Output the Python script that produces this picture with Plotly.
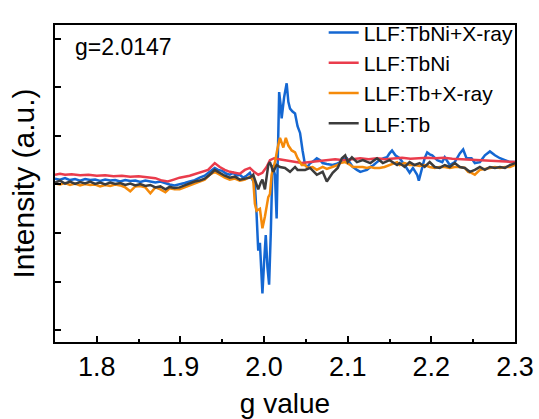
import plotly.graph_objects as go

# ---------------- data ----------------
g_tbni_x = [1.750,1.756,1.762,1.768,1.774,1.780,1.786,1.792,1.798,1.804,1.810,1.816,1.822,1.828,1.834,1.840,1.846,1.852,1.858,1.864,1.870,1.876,1.882,1.887,1.893,1.899,1.905,1.911,1.917,1.923,1.929,1.935,1.941,1.945,1.950,1.955,1.959,1.963,1.967,1.971,1.975,1.979,1.983,1.986,1.989,1.991,1.993,1.995,1.997,1.998,2.000,2.002,2.004,2.006,2.008,2.010,2.013,2.015,2.016,2.018,2.020,2.021,2.024,2.027,2.029,2.031,2.034,2.037,2.040,2.043,2.046,2.049,2.052,2.055,2.059,2.063,2.067,2.070,2.075,2.079,2.082,2.086,2.091,2.095,2.099,2.103,2.106,2.111,2.115,2.119,2.123,2.127,2.131,2.135,2.138,2.143,2.147,2.150,2.153,2.157,2.162,2.168,2.174,2.178,2.183,2.185,2.189,2.192,2.195,2.198,2.201,2.207,2.213,2.216,2.222,2.228,2.234,2.238,2.242,2.248,2.252,2.258,2.264,2.270,2.276,2.282,2.288,2.294,2.300]
i_tbni_x = [0.12,0.10,0.13,0.09,0.11,0.08,0.11,0.09,0.10,0.07,0.10,0.08,0.09,0.06,0.09,0.07,0.08,0.05,0.08,0.06,0.04,0.06,0.02,0.00,-0.02,0.00,0.03,0.06,0.09,0.14,0.18,0.26,0.34,0.30,0.28,0.22,0.20,0.24,0.18,0.20,0.14,0.18,0.24,0.10,0.00,-0.60,-1.36,-1.20,-1.90,-2.24,-1.60,-1.04,-1.70,-2.06,-1.00,0.40,0.20,-0.70,0.20,1.90,1.60,1.36,1.80,2.08,1.70,1.56,1.50,1.46,1.20,1.06,0.70,0.40,0.36,0.44,0.48,0.54,0.50,0.44,0.42,0.40,0.40,0.42,0.46,0.52,0.54,0.44,0.36,0.30,0.26,0.28,0.30,0.36,0.40,0.46,0.50,0.54,0.56,0.64,0.70,0.60,0.54,0.40,0.24,0.34,0.20,0.08,0.34,0.54,0.66,0.62,0.60,0.50,0.46,0.56,0.40,0.46,0.64,0.72,0.54,0.54,0.44,0.46,0.60,0.68,0.60,0.54,0.50,0.46,0.46]

g_tbni = [1.750,1.756,1.762,1.770,1.780,1.790,1.800,1.810,1.820,1.830,1.840,1.850,1.860,1.870,1.878,1.885,1.892,1.899,1.911,1.923,1.933,1.941,1.947,1.953,1.959,1.965,1.971,1.977,1.983,1.988,1.993,1.998,2.003,2.007,2.012,2.018,2.025,2.035,2.045,2.055,2.065,2.075,2.085,2.095,2.105,2.115,2.125,2.135,2.145,2.155,2.165,2.175,2.185,2.195,2.205,2.215,2.225,2.235,2.245,2.255,2.265,2.275,2.285,2.295,2.300]
i_tbni = [0.20,0.22,0.20,0.21,0.19,0.20,0.18,0.19,0.17,0.18,0.16,0.17,0.15,0.13,0.08,0.06,0.10,0.14,0.18,0.24,0.30,0.44,0.36,0.30,0.26,0.24,0.22,0.30,0.34,0.26,0.20,0.24,0.36,0.50,0.54,0.52,0.50,0.46,0.44,0.46,0.48,0.50,0.52,0.50,0.52,0.54,0.52,0.54,0.52,0.54,0.55,0.53,0.54,0.55,0.54,0.55,0.53,0.52,0.50,0.50,0.48,0.47,0.47,0.46,0.46]

g_tb_x = [1.750,1.756,1.762,1.768,1.774,1.780,1.786,1.792,1.798,1.804,1.810,1.816,1.822,1.828,1.834,1.840,1.846,1.852,1.858,1.864,1.870,1.876,1.882,1.887,1.893,1.899,1.905,1.911,1.917,1.923,1.929,1.935,1.941,1.947,1.953,1.959,1.965,1.971,1.977,1.983,1.987,1.989,1.991,1.993,1.995,1.998,2.001,2.005,2.007,2.009,2.013,2.016,2.019,2.023,2.026,2.029,2.033,2.037,2.040,2.045,2.049,2.052,2.058,2.063,2.070,2.075,2.082,2.088,2.091,2.097,2.103,2.106,2.111,2.118,2.123,2.127,2.132,2.138,2.144,2.150,2.159,2.162,2.168,2.174,2.180,2.186,2.192,2.198,2.204,2.210,2.216,2.222,2.228,2.234,2.240,2.244,2.248,2.252,2.258,2.264,2.270,2.276,2.282,2.288,2.294,2.300]
i_tb_x = [0.02,0.00,0.03,-0.01,0.02,-0.02,0.01,-0.01,0.00,-0.04,-0.01,-0.03,0.00,-0.02,-0.06,-0.14,-0.04,-0.03,-0.06,-0.18,-0.06,-0.10,-0.16,-0.08,-0.10,-0.10,-0.06,-0.02,0.02,0.06,0.10,0.20,0.26,0.20,0.14,0.10,0.12,0.08,0.10,0.16,0.10,-0.40,-0.54,-0.52,-0.50,-0.90,-0.66,-0.26,-0.20,0.20,0.46,0.74,0.96,0.76,0.96,0.80,0.70,0.66,0.54,0.40,0.40,0.34,0.36,0.30,0.36,0.32,0.36,0.40,0.44,0.46,0.40,0.36,0.36,0.36,0.34,0.36,0.34,0.34,0.36,0.40,0.46,0.40,0.44,0.40,0.40,0.38,0.40,0.36,0.34,0.36,0.36,0.34,0.36,0.36,0.34,0.26,0.24,0.20,0.30,0.32,0.34,0.36,0.34,0.36,0.36,0.40]

g_tb = [1.750,1.756,1.762,1.768,1.774,1.780,1.786,1.792,1.798,1.804,1.810,1.816,1.822,1.828,1.834,1.840,1.846,1.852,1.858,1.864,1.870,1.876,1.882,1.887,1.893,1.899,1.905,1.911,1.917,1.923,1.929,1.935,1.941,1.947,1.953,1.959,1.965,1.971,1.977,1.983,1.987,1.991,1.993,1.996,1.998,2.001,2.005,2.007,2.011,2.015,2.019,2.025,2.031,2.037,2.040,2.043,2.049,2.055,2.063,2.070,2.075,2.082,2.088,2.093,2.097,2.100,2.105,2.111,2.118,2.127,2.135,2.142,2.150,2.159,2.162,2.168,2.174,2.180,2.186,2.192,2.198,2.204,2.210,2.216,2.222,2.228,2.234,2.240,2.246,2.252,2.258,2.264,2.270,2.276,2.282,2.288,2.294,2.300]
i_tb = [0.04,0.08,0.02,0.06,0.01,0.05,0.02,0.06,0.01,0.04,0.00,0.04,0.01,0.03,-0.01,0.02,-0.02,0.01,-0.03,-0.01,-0.06,-0.04,-0.10,-0.05,-0.07,-0.06,-0.02,0.02,0.06,0.08,0.12,0.20,0.30,0.24,0.18,0.14,0.16,0.10,0.12,0.14,0.20,0.00,-0.10,0.04,0.10,-0.10,0.40,0.46,0.26,0.40,0.36,0.34,0.26,0.36,0.30,0.30,0.30,0.34,0.20,0.26,0.06,0.24,0.34,0.54,0.60,0.46,0.56,0.46,0.50,0.44,0.54,0.44,0.50,0.40,0.44,0.36,0.46,0.40,0.44,0.36,0.46,0.36,0.34,0.40,0.36,0.44,0.36,0.34,0.26,0.30,0.36,0.30,0.36,0.34,0.36,0.34,0.40,0.44]

series_names = ["LLF:TbNi+X-ray", "LLF:TbNi", "LLF:Tb+X-ray", "LLF:Tb"]
series_colors = ["#1467d2", "#ea3c4c", "#f58a0a", "#3c3c3c"]
series_g = [g_tbni_x, g_tbni, g_tb_x, g_tb]
series_i = [i_tbni_x, i_tbni, i_tb_x, i_tb]

x_ticks = [1.8, 1.9, 2.0, 2.1, 2.2, 2.3]
y_ticks = [-3, -2, -1, 0, 1, 2, 3]

FONT = "Liberation Sans, Arial, sans-serif"

fig = go.Figure()
for name, col, gx, iy in zip(series_names, series_colors, series_g, series_i):
    fig.add_trace(go.Scatter(x=gx, y=iy, mode="lines", name=name,
                             line=dict(color=col, width=2.5)))

fig.update_layout(
    width=539, height=419,
    margin=dict(l=55, r=24, t=16, b=77),
    paper_bgcolor="white", plot_bgcolor="white",
    font=dict(family=FONT, color="black"),
    showlegend=True,
    legend=dict(x=1.008, y=1.04, xanchor="right", yanchor="top",
                bgcolor="rgba(0,0,0,0)", font=dict(size=21, family=FONT),
                tracegroupgap=0, itemwidth=30),
    annotations=[dict(text="g=2.0147", x=0.04, y=0.93, xref="paper", yref="paper",
                      xanchor="left", yanchor="middle", showarrow=False,
                      font=dict(size=23, family=FONT))],
)
fig.update_xaxes(range=[1.75, 2.3], tickvals=x_ticks, ticktext=[f"{v:.1f}" for v in x_ticks],
                 ticks="inside", ticklen=6, tickwidth=2, tickcolor="black",
                 minor=dict(dtick=0.05, tick0=1.75, ticks="inside", ticklen=3, tickwidth=2, tickcolor="black"),
                 showline=True, linewidth=2, linecolor="black", mirror=True,
                 showgrid=False, zeroline=False, automargin=False,
                 tickfont=dict(size=27, family=FONT),
                 title=dict(text="g value", font=dict(size=28, family=FONT), standoff=12))
fig.update_yaxes(range=[-3.24, 3.28], tickvals=y_ticks, showticklabels=False,
                 ticks="inside", ticklen=6, tickwidth=2, tickcolor="black",
                 showline=True, linewidth=2, linecolor="black", mirror=True,
                 showgrid=False, zeroline=False, automargin=False,
                 title=dict(text="Intensity (a.u.)", font=dict(size=30, family=FONT), standoff=10))

fig.write_html("out.html")
